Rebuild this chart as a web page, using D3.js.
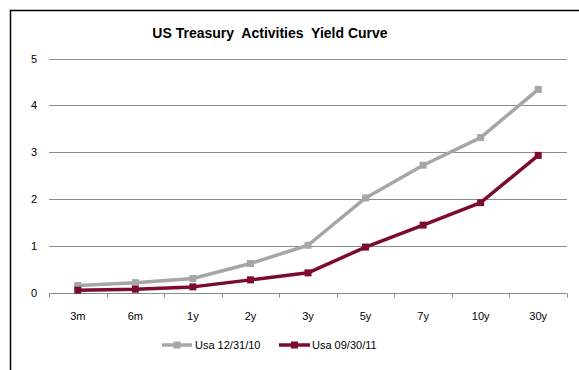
<!DOCTYPE html>
<html>
<head>
<meta charset="utf-8">
<script src="https://cdn.jsdelivr.net/npm/d3@7"></script>
<style>
  html, body { margin: 0; padding: 0; background: #fff; }
  svg { display: block; font-family: "Liberation Sans", Arial, sans-serif; }
</style>
</head>
<body>
<svg id="chart" width="579" height="370"></svg>
<script>
// Tenors and yields (%)
const tenors = ["3m", "6m", "1y", "2y", "3y", "5y", "7y", "10y", "30y"];
const usa123110 = [0.15, 0.21, 0.30, 0.62, 1.01, 2.02, 2.72, 3.31, 4.34];
const usa093011 = [0.05, 0.07, 0.12, 0.27, 0.42, 0.97, 1.44, 1.92, 2.93];
const yTicks = [0, 1, 2, 3, 4, 5];
const seriesNames = ["Usa 12/31/10", "Usa 09/30/11"];
const seriesColors = ["#a6a6a6", "#7d0a34"];

const svg = d3.select("#chart");

// Outer frame (left and top edges)
svg.append("path")
  .attr("d", "M10.5,370 L10.5,10.5 L579,10.5")
  .attr("fill", "none").attr("stroke", "#000").attr("stroke-width", 1.5);

const plotLeft = 49, plotRight = 567, plotTop = 58.5, plotBottom = 292.5;

const x = d3.scaleBand().domain(tenors).range([plotLeft, plotRight]).padding(0);
const y = d3.scaleLinear().domain([0, 5]).range([plotBottom, plotTop]);

// Title
svg.append("text")
  .attr("x", 270).attr("y", 38)
  .attr("text-anchor", "middle")
  .attr("font-size", 14).attr("font-weight", "bold").attr("fill", "#000")
  .attr("xml:space", "preserve")
  .text("US Treasury  Activities  Yield Curve");

// Horizontal grid lines
svg.append("g")
  .selectAll("line")
  .data(yTicks.filter(d => d > 0))
  .join("line")
  .attr("x1", plotLeft).attr("x2", plotRight)
  .attr("y1", d => Math.round(y(d)) + 0.5).attr("y2", d => Math.round(y(d)) + 0.5)
  .attr("stroke", "#8c8c8c").attr("stroke-width", 1);

// Y axis labels
svg.append("g")
  .selectAll("text")
  .data(yTicks)
  .join("text")
  .attr("x", 37).attr("y", d => y(d) + 4)
  .attr("text-anchor", "end")
  .attr("font-size", 11).attr("fill", "#000")
  .text(d => d);

// X axis with ticks at category boundaries
const xAxisG = svg.append("g").attr("transform", `translate(0,${Math.round(plotBottom) + 0.5})`);
xAxisG.append("line")
  .attr("x1", plotLeft).attr("x2", plotRight)
  .attr("stroke", "#8c8c8c").attr("stroke-width", 1);
const boundaries = tenors.map(t => x(t)).concat([plotRight]);
xAxisG.selectAll("line.tick")
  .data(boundaries)
  .join("line")
  .attr("class", "tick")
  .attr("x1", d => Math.round(d) + 0.5).attr("x2", d => Math.round(d) + 0.5)
  .attr("y1", 0).attr("y2", 4)
  .attr("stroke", "#8c8c8c").attr("stroke-width", 1);
xAxisG.selectAll("text")
  .data(tenors)
  .join("text")
  .attr("x", d => x(d) + x.bandwidth() / 2)
  .attr("y", 26)
  .attr("text-anchor", "middle")
  .attr("font-size", 11).attr("fill", "#000")
  .text(d => d);

// Series lines and markers
const line = d3.line()
  .x((d, i) => x(tenors[i]) + x.bandwidth() / 2)
  .y(d => y(d));

const allSeries = [usa123110, usa093011];
allSeries.forEach((vals, s) => {
  const g = svg.append("g");
  g.append("path")
    .datum(vals)
    .attr("d", line)
    .attr("fill", "none")
    .attr("stroke", seriesColors[s])
    .attr("stroke-width", 3.5)
    .attr("stroke-linejoin", "round");
  g.selectAll("rect")
    .data(vals)
    .join("rect")
    .attr("x", (d, i) => x(tenors[i]) + x.bandwidth() / 2 - 3.5)
    .attr("y", d => y(d) - 3.5)
    .attr("width", 7).attr("height", 7)
    .attr("fill", seriesColors[s]);
});

// Legend
const legendItems = [
  { x0: 162, x1: 192, tx: 195 },
  { x0: 279, x1: 310, tx: 312 }
];
const legendY = 345;
legendItems.forEach((it, s) => {
  const g = svg.append("g");
  g.append("line")
    .attr("x1", it.x0).attr("x2", it.x1)
    .attr("y1", legendY).attr("y2", legendY)
    .attr("stroke", seriesColors[s]).attr("stroke-width", 3.5);
  g.append("rect")
    .attr("x", (it.x0 + it.x1) / 2 - 3.5).attr("y", legendY - 3.5)
    .attr("width", 7).attr("height", 7)
    .attr("fill", seriesColors[s]);
  g.append("text")
    .attr("x", it.tx).attr("y", legendY + 4)
    .attr("font-size", 11).attr("fill", "#000")
    .text(seriesNames[s]);
});
</script>
</body>
</html>
